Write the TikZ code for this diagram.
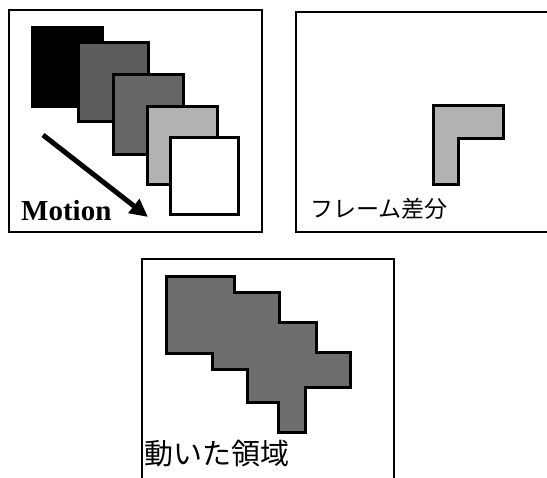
\documentclass[tikz,border=0pt]{standalone}
\usepackage{fontspec}
\setmainfont{Liberation Serif}
\newfontfamily\jpfont{Noto Sans CJK JP}
\usetikzlibrary{arrows.meta}
\tikzset{
  panel/.style={draw=black, line width=2.2pt},
  framebox/.style={draw=black, line width=3pt, line join=miter},
  lbl/.style={inner sep=0pt, anchor=west},
}
\begin{document}
\begin{tikzpicture}[x=1pt,y=-1pt]
\useasboundingbox (0,0) rectangle (547,478);
% top-left panel
\draw[panel] (9,10) rectangle (262,232);
\draw[framebox, fill=black] (32,28) rectangle (102,107);
\draw[framebox, fill=black!64] (78,43) rectangle (148,122);
\draw[framebox, fill=black!60] (113,75) rectangle (183,155);
\draw[framebox, fill=black!30] (147,107) rectangle (217,185);
\draw[framebox, fill=white] (170,138) rectangle (238,215);
\coordinate (as) at (43,135);
\coordinate (ae) at (148,217);
\draw[line width=5pt, -{Triangle[length=18pt,width=17pt]}] (as) -- (ae);
\node[lbl, font=\bfseries\fontsize{29}{31}\selectfont, anchor=base west] (motion) at (21,221) {Motion};
% top-right panel
\draw[panel] (548,12) -- (296,12) -- (296,232) -- (548,232);
\draw[framebox, fill=black!30] (433,106) -- (503,106) -- (503,139) -- (458,139) -- (458,185) -- (433,185) -- cycle;
\node[lbl, font=\jpfont\fontsize{23}{25}\selectfont] (diff) at (310,209) {フレーム差分};
% bottom panel
\draw[panel] (142,479) -- (142,259) -- (394,259) -- (394,479);
\draw[framebox, fill=black!57] (166,277) -- (234,277) -- (234,293) -- (279,293) -- (279,323) -- (316,323) -- (316,353) -- (350,353) -- (350,388) -- (305,388) -- (305,433) -- (278,433) -- (278,403) -- (247,403) -- (247,370) -- (212,370) -- (212,354) -- (166,354) -- cycle;
\node[lbl, font=\jpfont\fontsize{29}{31}\selectfont] (moved) at (144,454) {動いた領域};
\end{tikzpicture}
\end{document}
